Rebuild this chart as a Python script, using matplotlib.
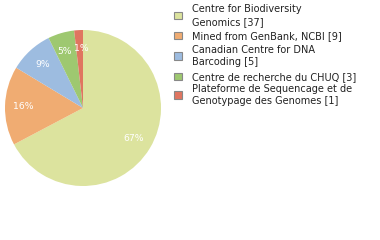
import matplotlib
matplotlib.use("Agg")
import matplotlib.pyplot as plt
from matplotlib.patches import Rectangle

labels = ["Centre for Biodiversity\nGenomics [37]",
          "Mined from GenBank, NCBI [9]",
          "Canadian Centre for DNA\nBarcoding [5]",
          "Centre de recherche du CHUQ [3]",
          "Plateforme de Sequencage et de\nGenotypage des Genomes [1]"]
counts = [37, 9, 5, 3, 1]
colors = ["#dce39e", "#f0ac72", "#9dbce0", "#9ec870", "#e07560"]

W, H = 380, 240
fig = plt.figure(figsize=(W / 100, H / 100), dpi=100)
cx, cy, r = 83, 108, 78
ax = fig.add_axes([(cx - r) / W, (H - cy - r) / H, 2 * r / W, 2 * r / H])
wedges, texts, autotexts = ax.pie(
    counts, colors=colors, startangle=90, counterclock=False,
    autopct=lambda p: f"{int(p)}%", pctdistance=0.76,
    wedgeprops=dict(linewidth=0),
    textprops=dict(color="white", fontsize=6.7, family="DejaVu Sans"))
# small nudges so the two narrow-slice labels sit side by side
x, y = autotexts[-1].get_position()
autotexts[-1].set_position((x + 0.025, y))
x, y = autotexts[-2].get_position()
autotexts[-2].set_position((x - 0.02, y))
ax.set_xlim(-1, 1)
ax.set_ylim(-1, 1)
ax.set_aspect("equal")
ax.axis("off")

# legend drawn manually in pixel coordinates
line_y = [[9.5, 21.7], [35.7], [50, 61.7], [76.7], [89, 101]]
marker_y = [15.5, 35.7, 55.8, 76.7, 95]
for lab, col, ly, my in zip(labels, colors, line_y, marker_y):
    fig.patches.append(Rectangle(((174) / W, (H - my - 3.7) / H), 7.5 / W, 7.5 / H,
                                 transform=fig.transFigure, facecolor=col,
                                 edgecolor="#888888", linewidth=0.8))
    for t, y in zip(lab.split("\n"), ly):
        fig.text(192 / W, (H - y) / H, t, fontsize=7.0, color="#222222",
                 va="center", ha="left", family="DejaVu Sans")

fig.savefig("out.png", dpi=100)
